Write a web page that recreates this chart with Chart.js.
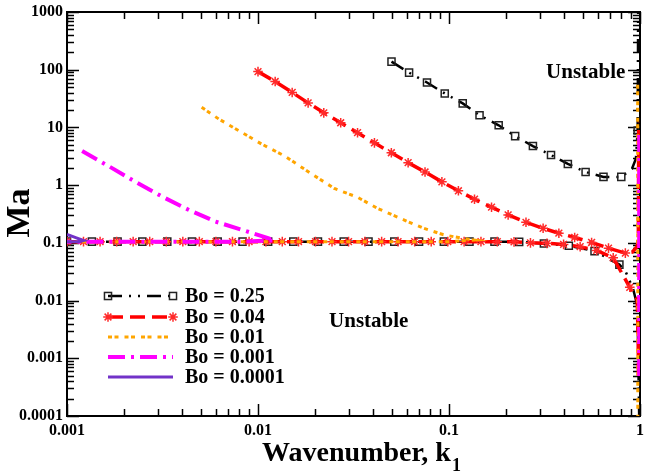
<!DOCTYPE html>
<html>
<head>
<meta charset="utf-8">
<title>Ma vs wavenumber</title>
<script src="https://cdn.jsdelivr.net/npm/chart.js@4.4.1/dist/chart.umd.min.js"></script>
<style>
  html, body { margin: 0; padding: 0; background: #fff; }
  canvas { display: block; }
</style>
</head>
<body>
<canvas id="stability" width="651" height="476"></canvas>
<script>
const boLabels = ["Bo = 0.25", "Bo = 0.04", "Bo = 0.01", "Bo = 0.001", "Bo = 0.0001"];
const xTickValues = [0.001, 0.01, 0.1, 1];
const yTickValues = [0.0001, 0.001, 0.01, 0.1, 1, 10, 100, 1000];

// Bo = 0.25, upper and lower branch
const kBo025Up = [0.05, 0.0618, 0.0767, 0.095, 0.118, 0.1445, 0.182, 0.222, 0.275, 0.342, 0.419, 0.519, 0.644, 0.798, 0.908, 0.952, 0.972, 0.978];
const maBo025Up = [138, 89, 60, 38.8, 26.1, 16.2, 10.9, 7.06, 4.75, 3.32, 2.33, 1.69, 1.39, 1.39, 1.93, 2.87, 8.85, 1000];
const kBo025Low = [0.001, 0.00135, 0.00184, 0.00248, 0.00335, 0.00451, 0.00615, 0.0083, 0.0113, 0.0153, 0.0206, 0.0281, 0.0379, 0.0517, 0.0697, 0.094, 0.128, 0.173, 0.233, 0.314, 0.424, 0.578, 0.78, 0.84, 0.92, 0.97, 0.99];
const maBo025Low = [0.105, 0.105, 0.105, 0.105, 0.105, 0.105, 0.105, 0.105, 0.105, 0.105, 0.105, 0.105, 0.105, 0.105, 0.105, 0.105, 0.105, 0.105, 0.104, 0.0976, 0.0892, 0.072, 0.042, 0.032, 0.016, 0.008, 0.0001];

// Bo = 0.04
const kBo004Up = [0.01, 0.0123, 0.0151, 0.0183, 0.0221, 0.0271, 0.0332, 0.0407, 0.0499, 0.0611, 0.0749, 0.0918, 0.112, 0.136, 0.167, 0.204, 0.253, 0.311, 0.376, 0.455, 0.558, 0.684, 0.838, 0.911, 0.967, 0.98, 0.985];
const maBo004Up = [92.7, 62.4, 40.4, 26.6, 17.9, 12.05, 8.11, 5.41, 3.64, 2.45, 1.69, 1.14, 0.798, 0.57, 0.415, 0.305, 0.227, 0.179, 0.147, 0.124, 0.1016, 0.081, 0.0665, 0.069, 0.0867, 0.119, 12];
const kBo004Low = [0.001, 0.00122, 0.00149, 0.00182, 0.00222, 0.00271, 0.00331, 0.00404, 0.00493, 0.00602, 0.00735, 0.00898, 0.011, 0.0134, 0.0163, 0.02, 0.0244, 0.0298, 0.0363, 0.0444, 0.0541, 0.0661, 0.0807, 0.0985, 0.12, 0.147, 0.179, 0.219, 0.267, 0.326, 0.398, 0.486, 0.593, 0.724, 0.884, 0.93, 0.967, 0.978, 0.982];
const maBo004Low = [0.105, 0.105, 0.105, 0.105, 0.105, 0.105, 0.105, 0.105, 0.105, 0.105, 0.105, 0.105, 0.105, 0.105, 0.105, 0.105, 0.105, 0.105, 0.105, 0.105, 0.105, 0.105, 0.105, 0.105, 0.105, 0.105, 0.105, 0.104, 0.1, 0.098, 0.094, 0.086, 0.074, 0.055, 0.017, 0.0125, 0.0106, 0.002, 0.0005];

// Bo = 0.01 (upper branch turning back onto the lower one) + branch at k1 -> 1
const kBo001 = [0.00507, 0.00623, 0.00791, 0.0104, 0.0138, 0.0189, 0.0251, 0.0332, 0.0422, 0.058, 0.0737, 0.0936, 0.119, 0.135, 0.1, 0.05, 0.02, 0.01, 0.005, 0.002, 0.001];
const maBo001 = [22.3, 14.0, 8.84, 5.2, 3.19, 1.6, 0.874, 0.617, 0.396, 0.25, 0.179, 0.138, 0.119, 0.112, 0.105, 0.105, 0.105, 0.105, 0.105, 0.105, 0.105];
const kBo001End = [0.972, 0.974];
const maBo001End = [55, 0.0001];

// Bo = 0.001
const kBo0001 = [0.0012, 0.00166, 0.00228, 0.00316, 0.00435, 0.00599, 0.00857, 0.0113, 0.0122, 0.008, 0.004, 0.002, 0.001];
const maBo0001 = [3.89, 2.12, 1.14, 0.629, 0.371, 0.2335, 0.1616, 0.1205, 0.11, 0.105, 0.105, 0.105, 0.105];
const kBo0001End = [0.99, 0.99];
const maBo0001End = [7.4, 0.0004];

// Bo = 0.0001
const kBo00001 = [0.001, 0.00112, 0.00122, 0.00115, 0.001];
const maBo00001 = [0.14, 0.122, 0.11, 0.105, 0.105];

const SERIF = '"Liberation Serif", "Times New Roman", serif';
Chart.defaults.font.family = SERIF;

const styles = [
  { color: '#000000', width: 2.5, dash: [14, 7, 2, 7, 2, 7], marker: 'rect', r: 5, mcolor: '#222222' },
  { color: '#ff0000', width: 3.5, dash: [15, 7], marker: 'star', r: 4.8, mcolor: '#ff2a2a' },
  { color: '#ffa500', width: 3, dash: [4, 2.5, 4, 6], marker: null },
  { color: '#ff00ff', width: 4, dash: [17, 6, 3, 6], marker: null },
  { color: '#7232c8', width: 3, dash: [], marker: null }
];

function curve(ks, mas, st, unmarked) {
  return {
    data: ks.map((k, i) => ({ x: k, y: mas[i] })),
    borderColor: st.color,
    borderWidth: st.width,
    borderDash: st.dash,
    pointStyle: st.marker || 'circle',
    pointRadius: st.marker ? (c => unmarked.includes(c.dataIndex) ? 0 : st.r) : 0,
    pointBorderColor: st.mcolor,
    pointBackgroundColor: 'rgba(0,0,0,0)',
    pointBorderWidth: 1.5,
    fill: false,
    tension: 0
  };
}

// first dataset ends up on top
const datasets = [
  curve(kBo00001, maBo00001, styles[4], []),
  curve(kBo0001, maBo0001, styles[3], []),
  curve(kBo0001End, maBo0001End, styles[3], []),
  curve(kBo001, maBo001, styles[2], []),
  curve(kBo001End, maBo001End, styles[2], []),
  curve(kBo004Up, maBo004Up, styles[1], [23, 24, 25, 26]),
  curve(kBo004Low, maBo004Low, styles[1], [35, 36, 37, 38]),
  curve(kBo025Up, maBo025Up, styles[0], [14, 15, 17]),
  curve(kBo025Low, maBo025Low, styles[0], [23, 24, 25, 26])
];

function drawMarker(ctx, kind, x, y, st) {
  ctx.save();
  ctx.setLineDash([]);
  ctx.strokeStyle = st.mcolor;
  ctx.lineWidth = 1.5;
  if (kind === 'rect') {
    const s = st.r / Math.SQRT2;
    ctx.strokeRect(x - s, y - s, 2 * s, 2 * s);
  } else if (kind === 'star') {
    ctx.beginPath();
    for (let i = 0; i < 4; i++) {
      const a = i * Math.PI / 4;
      ctx.moveTo(x - Math.cos(a) * st.r, y - Math.sin(a) * st.r);
      ctx.lineTo(x + Math.cos(a) * st.r, y + Math.sin(a) * st.r);
    }
    ctx.stroke();
  }
  ctx.restore();
}

// frame + inside ticks, drawn under the curves
const frame = {
  id: 'frame',
  beforeDatasetsDraw(chart) {
    const { ctx, chartArea: a, scales: { x, y } } = chart;
    ctx.save();
    ctx.strokeStyle = '#000';
    ctx.lineWidth = 1.5;
    ctx.beginPath();
    for (let e = -3; e <= 0; e++) {
      for (let m = 1; m < 10; m++) {
        const v = m * Math.pow(10, e);
        if (v > 1) break;
        const px = Math.round(x.getPixelForValue(v)) + 0.5;
        const len = m === 1 ? 12 : 7;
        ctx.moveTo(px, a.bottom); ctx.lineTo(px, a.bottom - len);
        ctx.moveTo(px, a.top); ctx.lineTo(px, a.top + len);
      }
    }
    for (let e = -4; e <= 3; e++) {
      for (let m = 1; m < 10; m++) {
        const v = m * Math.pow(10, e);
        if (v > 1000) break;
        const py = Math.round(y.getPixelForValue(v)) + 0.5;
        const len = m === 1 ? 12 : 7;
        ctx.moveTo(a.left, py); ctx.lineTo(a.left + len, py);
        ctx.moveTo(a.right, py); ctx.lineTo(a.right - len, py);
      }
    }
    ctx.stroke();
    ctx.lineWidth = 2;
    ctx.strokeRect(a.left, a.top, a.right - a.left, a.bottom - a.top);
    ctx.restore();
  }
};

const decorations = {
  id: 'decorations',
  afterDatasetsDraw(chart) {
    const { ctx, scales: { x, y } } = chart;
    ctx.save();

    // region labels
    ctx.fillStyle = '#000';
    ctx.font = 'bold 21px ' + SERIF;
    ctx.textAlign = 'center';
    ctx.textBaseline = 'middle';
    ctx.fillText('Unstable', x.getPixelForValue(0.52), y.getPixelForValue(91));
    ctx.fillText('Unstable', x.getPixelForValue(0.038), y.getPixelForValue(0.0044));

    // legend
    const rows = [296, 317, 337, 357, 377];
    ctx.font = 'bold 20px ' + SERIF;
    ctx.textAlign = 'left';
    styles.forEach((st, i) => {
      const ly = rows[i];
      ctx.save();
      ctx.strokeStyle = st.color;
      ctx.lineWidth = st.width;
      ctx.setLineDash(st.dash);
      ctx.beginPath();
      ctx.moveTo(108, ly);
      ctx.lineTo(173, ly);
      ctx.stroke();
      ctx.restore();
      if (st.marker) {
        drawMarker(ctx, st.marker, 108, ly, st);
        drawMarker(ctx, st.marker, 173, ly, st);
      }
      ctx.fillStyle = '#000';
      ctx.fillText(boLabels[i], 185, ly + 1);
    });

    // axis titles
    ctx.textBaseline = 'alphabetic';
    ctx.font = 'bold 28px ' + SERIF;
    const main = 'Wavenumber, k';
    const wMain = ctx.measureText(main).width;
    ctx.font = 'bold 18px ' + SERIF;
    const wSub = ctx.measureText('1').width;
    const x0 = 361 - (wMain + wSub) / 2;
    ctx.font = 'bold 28px ' + SERIF;
    ctx.fillText(main, x0, 461);
    ctx.font = 'bold 18px ' + SERIF;
    ctx.fillText('1', x0 + wMain + 1, 471);

    ctx.translate(20, 213);
    ctx.rotate(-Math.PI / 2);
    ctx.textAlign = 'center';
    ctx.textBaseline = 'middle';
    ctx.font = 'bold 34px ' + SERIF;
    ctx.fillText('Ma', 0, 0);
    ctx.restore();
  }
};

const tickFont = { family: SERIF, size: 16, weight: 'bold', lineHeight: 1 };

new Chart(document.getElementById('stability'), {
  type: 'line',
  data: { datasets },
  options: {
    responsive: false,
    animation: false,
    layout: { padding: { left: 0, right: 5, top: 9, bottom: 0 } },
    plugins: { legend: { display: false }, tooltip: { enabled: false } },
    scales: {
      x: {
        type: 'logarithmic',
        min: 0.001,
        max: 1,
        afterBuildTicks: s => { s.ticks = xTickValues.map(v => ({ value: v })); },
        afterFit: s => { s.height = 60; },
        grid: { display: false, drawTicks: false, tickLength: 0 },
        border: { display: false },
        ticks: { autoSkip: false, maxRotation: 0, padding: 7, color: '#000', font: tickFont, callback: v => String(v) }
      },
      y: {
        type: 'logarithmic',
        min: 0.0001,
        max: 1000,
        afterBuildTicks: s => { s.ticks = yTickValues.map(v => ({ value: v })); },
        afterFit: s => { s.width = 67; },
        grid: { display: false, drawTicks: false, tickLength: 0 },
        border: { display: false },
        ticks: { autoSkip: false, padding: 4, color: '#000', font: tickFont, callback: v => String(v) }
      }
    }
  },
  plugins: [frame, decorations]
});
</script>
</body>
</html>
